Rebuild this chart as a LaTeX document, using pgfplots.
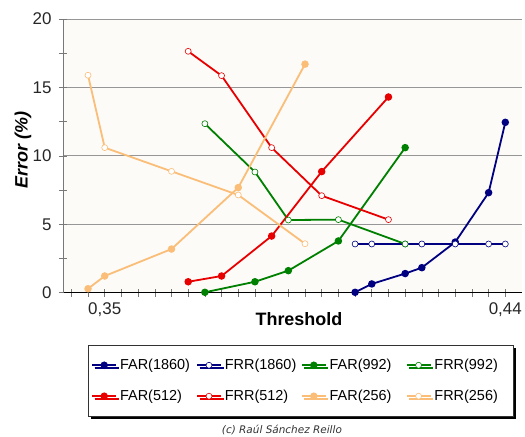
\documentclass[border=0pt]{standalone}
\usepackage{pgfplots}
\pgfplotsset{compat=1.18}
\usepackage{fontspec}
\setmainfont{Liberation Sans}
\newfontfamily\capfont{DejaVu Sans}
\usetikzlibrary{shadows}
\definecolor{cnavy}{RGB}{0,0,128}
\definecolor{cgreen}{RGB}{0,128,0}
\definecolor{cred}{RGB}{232,0,0}
\definecolor{corange}{RGB}{250,190,120}
\definecolor{cgrid}{RGB}{150,150,150}
\begin{document}
\begin{tikzpicture}
\path[use as bounding box] (-63bp,-144.3bp) rectangle (462bp,292.7bp);
\begin{axis}[
  at={(0,0)}, anchor=south west,
  scale only axis, width=459bp, height=273.7bp,
  xmin=-1.5, xmax=26, ymin=0, ymax=20,
  axis lines*=left,
  x axis line style={black, line width=0.8bp, -},
  y axis line style={cgrid!80!black, line width=0.8bp, -},
  axis background/.style={fill={rgb,255:red,252;green,251;blue,248}},
  xtick={1,25}, xticklabels={{0,35},{0,44}},
  minor xtick={-1,0,...,25},
  ytick={0,5,10,15,20},
  minor ytick={2.5,7.5,12.5,17.5},
  tick align=center,
  major tick length=8bp, minor tick length=8bp,
  tick style={cgrid!80!black, line width=0.6bp},
  ymajorgrids, grid style={cgrid, line width=0.8bp},
  /pgf/number format/assume math mode=true,
  tick label style={font=\fontsize{17}{19}\selectfont, text=black!85},
  xticklabel style={yshift=-2bp},
  yticklabel style={xshift=-4bp},
  xlabel={\textbf{Threshold}},
  xlabel style={at={(0.514,-0.058)}, anchor=north, font=\fontsize{18}{20}\selectfont},
  ylabel={\textbf{\textit{Error (\%)}}},
  ylabel style={at={(-0.087,0.521)}, anchor=center, font=\fontsize{18}{20}\selectfont},
  clip=false,
  legend columns=4,
  legend image code/.code={\draw[mark repeat=2,mark phase=2] plot coordinates {(0bp,0bp)(12bp,0bp)(24bp,0bp)};},
  legend style={at={(0.0545,-0.191)}, anchor=north west, draw=black!80, line width=0.6bp,
    fill=white, drop shadow={shadow xshift=2.5bp, shadow yshift=-2.5bp, fill=black, opacity=1},
    font=\fontsize{14.5}{17}\selectfont, inner xsep=3bp, inner ysep=12bp,
    /tikz/every odd column/.append style={column sep=1bp},
    /tikz/every even column/.append style={column sep=0bp},
    row sep=15bp},
  far/.style={line width=1.8bp, mark=*, mark size=2.8bp, mark options={solid}},
  frr/.style={line width=1.8bp, mark=*, mark size=3bp, mark options={solid, fill=white, line width=0.6bp}},
]
\addplot[far, cnavy] coordinates {(16,0.03)(17,0.64)(19,1.4)(20,1.83)(22,3.7)(24,7.31)(25,12.45)};
\addlegendentry{\makebox[74bp][l]{FAR(1860)}}
\addplot[frr, cnavy] coordinates {(16,3.56)(17,3.56)(19,3.56)(20,3.56)(22,3.56)(24,3.56)(25,3.56)};
\addlegendentry{\makebox[74bp][l]{FRR(1860)}}
\addplot[far, cgreen] coordinates {(7,0.03)(10,0.80)(12,1.61)(15,3.78)(19,10.6)};
\addlegendentry{\makebox[74bp][l]{FAR(992)}}
\addplot[frr, cgreen] coordinates {(7,12.35)(10,8.82)(12,5.31)(15,5.34)(19,3.56)};
\addlegendentry{\makebox[74bp][l]{FRR(992)}}
\addplot[far, cred] coordinates {(6,0.8)(8,1.22)(11,4.14)(14,8.85)(18,14.3)};
\addlegendentry{\makebox[74bp][l]{FAR(512)}}
\addplot[frr, cred] coordinates {(6,17.64)(8,15.86)(11,10.6)(14,7.09)(18,5.34)};
\addlegendentry{\makebox[74bp][l]{FRR(512)}}
\addplot[far, corange] coordinates {(0,0.29)(1,1.22)(5,3.19)(9,7.68)(13,16.7)};
\addlegendentry{\makebox[74bp][l]{FAR(256)}}
\addplot[frr, corange] coordinates {(0,15.89)(1,10.6)(5,8.87)(9,7.14)(13,3.58)};
\addlegendentry{\makebox[74bp][l]{FRR(256)}}
\node[font=\capfont\itshape\fontsize{10.5}{12}\selectfont, text=black!80] at (rel axis cs:0.477,-0.502) {(c) Raúl Sánchez Reillo};
\end{axis}
\end{tikzpicture}
\end{document}
